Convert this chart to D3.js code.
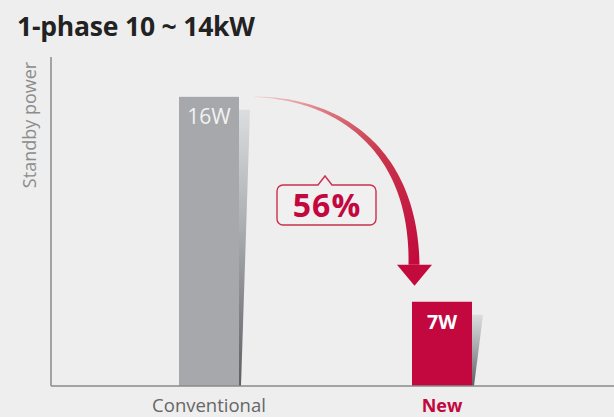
<!DOCTYPE html>
<html>
<head>
<meta charset="utf-8">
<script src="https://cdn.jsdelivr.net/npm/d3@7"></script>
<style>
  html, body { margin: 0; padding: 0; background: #eeeeee; }
  svg { display: block; }
</style>
</head>
<body>
<svg id="chart" width="614" height="417"></svg>
<script>
// Standby power, 1-phase 10 ~ 14kW units
const categories = ["Conventional", "New"];
const values = [16, 7];
const valueLabels = ["16W", "7W"];
const reductionLabel = "56%";
const title = "1-phase 10 ~ 14kW";
const yTitle = "Standby power";

const W = 614, H = 417;
const svg = d3.select("#chart");
const font = "'Open Sans', 'Noto Sans', sans-serif";

const plot = { left: 51, right: 614, top: 57, bottom: 386 };

const y = d3.scaleLinear().domain([3.3, 17.75]).range([plot.bottom, plot.top]);
const x = d3.scalePoint().domain(categories).range([209, 442]);
const barW = 60;

const barColors = ["#a7a8ab", "#c3073f"];

const defs = svg.append("defs");

// shadow gradient behind each bar
const sg = defs.append("linearGradient").attr("id", "shadowGrad")
  .attr("x1", 0).attr("y1", 0).attr("x2", 0).attr("y2", 1);
sg.append("stop").attr("offset", 0).attr("stop-color", "#dcdddf");
sg.append("stop").attr("offset", 0.45).attr("stop-color", "#a9aaad");
sg.append("stop").attr("offset", 1).attr("stop-color", "#5e5f62");

// title
svg.append("text")
  .attr("x", 17).attr("y", 36)
  .attr("font-family", font).attr("font-weight", 700)
  .attr("font-size", 26.5).attr("fill", "#222")
  .attr("letter-spacing", -0.2)
  .text(title);

// y axis title
svg.append("text")
  .attr("transform", "translate(36,125) rotate(-90)")
  .attr("text-anchor", "middle")
  .attr("font-family", font).attr("font-size", 18)
  .attr("fill", "#8c8c8c")
  .text(yTitle);

// bar shadows
categories.forEach((c, i) => {
  const x1 = x(c) + barW / 2;
  const top = y(values[i]) + 13;
  const pts = [[x1, top], [x1 + 11, top], [x1 + 2, plot.bottom], [x1, plot.bottom]];
  svg.append("path")
    .attr("d", d3.line()(pts) + "Z")
    .attr("fill", "url(#shadowGrad)");
});

// bars
svg.selectAll("rect.bar").data(categories).join("rect")
  .attr("class", "bar")
  .attr("x", d => x(d) - barW / 2)
  .attr("y", (d, i) => y(values[i]))
  .attr("width", barW)
  .attr("height", (d, i) => plot.bottom - y(values[i]))
  .attr("fill", (d, i) => barColors[i]);

// value labels inside bars
svg.selectAll("text.val").data(categories).join("text")
  .attr("class", "val")
  .attr("x", d => x(d))
  .attr("y", (d, i) => y(values[i]) + 27)
  .attr("text-anchor", "middle")
  .attr("font-family", font)
  .attr("font-size", (d, i) => i === 0 ? 21 : 19.5)
  .attr("font-weight", (d, i) => i === 0 ? 400 : 700)
  .attr("fill", (d, i) => i === 0 ? "#f2f2f2" : "#ffffff")
  .text((d, i) => valueLabels[i]);

// axes
svg.append("line")
  .attr("x1", plot.left).attr("x2", plot.left)
  .attr("y1", plot.top).attr("y2", plot.bottom)
  .attr("stroke", "#8a8a8a").attr("stroke-width", 1.5);
svg.append("line")
  .attr("x1", plot.left).attr("x2", plot.right)
  .attr("y1", plot.bottom).attr("y2", plot.bottom)
  .attr("stroke", "#8a8a8a").attr("stroke-width", 1.6);

// category labels
svg.selectAll("text.cat").data(categories).join("text")
  .attr("class", "cat")
  .attr("x", d => x(d))
  .attr("y", 412)
  .attr("text-anchor", "middle")
  .attr("font-family", font)
  .attr("font-size", (d, i) => i === 0 ? 18.5 : 18)
  .attr("font-weight", (d, i) => i === 0 ? 400 : 700)
  .attr("fill", (d, i) => i === 0 ? "#666666" : "#c3073f")
  .text(d => d);

// curved arrow from the old bar top down to the new bar
const x0 = x(categories[0]) + barW / 2 + 16, y0 = y(values[0]);
const xe = x(categories[1]) - 28, ye = y(values[1]) - 37;
const P0 = [x0, y0], P1 = [x0 + 85, y0 + 2], P2 = [xe, ye - 115], P3 = [xe, ye];
function bez(t) {
  const u = 1 - t;
  const a = u * u * u, b = 3 * u * u * t, c = 3 * u * t * t, d = t * t * t;
  return [a * P0[0] + b * P1[0] + c * P2[0] + d * P3[0],
          a * P0[1] + b * P1[1] + c * P2[1] + d * P3[1]];
}
function dbez(t) {
  const u = 1 - t;
  return [3 * u * u * (P1[0] - P0[0]) + 6 * u * t * (P2[0] - P1[0]) + 3 * t * t * (P3[0] - P2[0]),
          3 * u * u * (P1[1] - P0[1]) + 6 * u * t * (P2[1] - P1[1]) + 3 * t * t * (P3[1] - P2[1])];
}
const N = 80;
const leftSide = [], rightSide = [];
for (let k = 0; k <= N; k++) {
  const t = k / N;
  const p = bez(t), d = dbez(t);
  const len = Math.hypot(d[0], d[1]) || 1;
  const nx = -d[1] / len, ny = d[0] / len;
  const w = (0.6 + 10.4 * Math.pow(t, 1.1)) / 2;
  leftSide.push([p[0] + nx * w, p[1] + ny * w]);
  rightSide.push([p[0] - nx * w, p[1] - ny * w]);
}
const shaft = leftSide.concat(rightSide.reverse());

const ag = defs.append("linearGradient").attr("id", "arrowGrad")
  .attr("gradientUnits", "userSpaceOnUse")
  .attr("x1", x0).attr("y1", y0).attr("x2", xe).attr("y2", ye);
ag.append("stop").attr("offset", 0).attr("stop-color", "#f3d3d3");
ag.append("stop").attr("offset", 0.25).attr("stop-color", "#dc7a80");
ag.append("stop").attr("offset", 0.55).attr("stop-color", "#c8364c");
ag.append("stop").attr("offset", 1).attr("stop-color", "#c20a3c");

svg.append("path")
  .attr("d", d3.line()(shaft) + "Z")
  .attr("fill", "url(#arrowGrad)");

svg.append("path")
  .attr("d", d3.line()([[xe - 17, ye], [xe + 18, ye], [xe + 0.5, ye + 21]]) + "Z")
  .attr("fill", "#c20a3c");

// callout with the reduction percentage
const bx = 277, by = 185, bw = 99, bh = 40, r = 6;
const notchX = 325;
const callout = d3.path();
callout.moveTo(bx + r, by);
callout.lineTo(notchX - 7, by);
callout.lineTo(notchX, by - 9);
callout.lineTo(notchX + 7, by);
callout.lineTo(bx + bw - r, by);
callout.arcTo(bx + bw, by, bx + bw, by + r, r);
callout.lineTo(bx + bw, by + bh - r);
callout.arcTo(bx + bw, by + bh, bx + bw - r, by + bh, r);
callout.lineTo(bx + r, by + bh);
callout.arcTo(bx, by + bh, bx, by + bh - r, r);
callout.lineTo(bx, by + r);
callout.arcTo(bx, by, bx + r, by, r);
callout.closePath();
svg.append("path")
  .attr("d", callout.toString())
  .attr("fill", "#f0f0f0")
  .attr("stroke", "#cc2f4f").attr("stroke-width", 1.4);

svg.append("text")
  .attr("x", bx + bw / 2 + 0.5).attr("y", by + 32)
  .attr("text-anchor", "middle")
  .attr("font-family", font).attr("font-weight", 700)
  .attr("font-size", 32).attr("fill", "#c3073f")
  .attr("letter-spacing", 1)
  .text(reductionLabel);
</script>
</body>
</html>
